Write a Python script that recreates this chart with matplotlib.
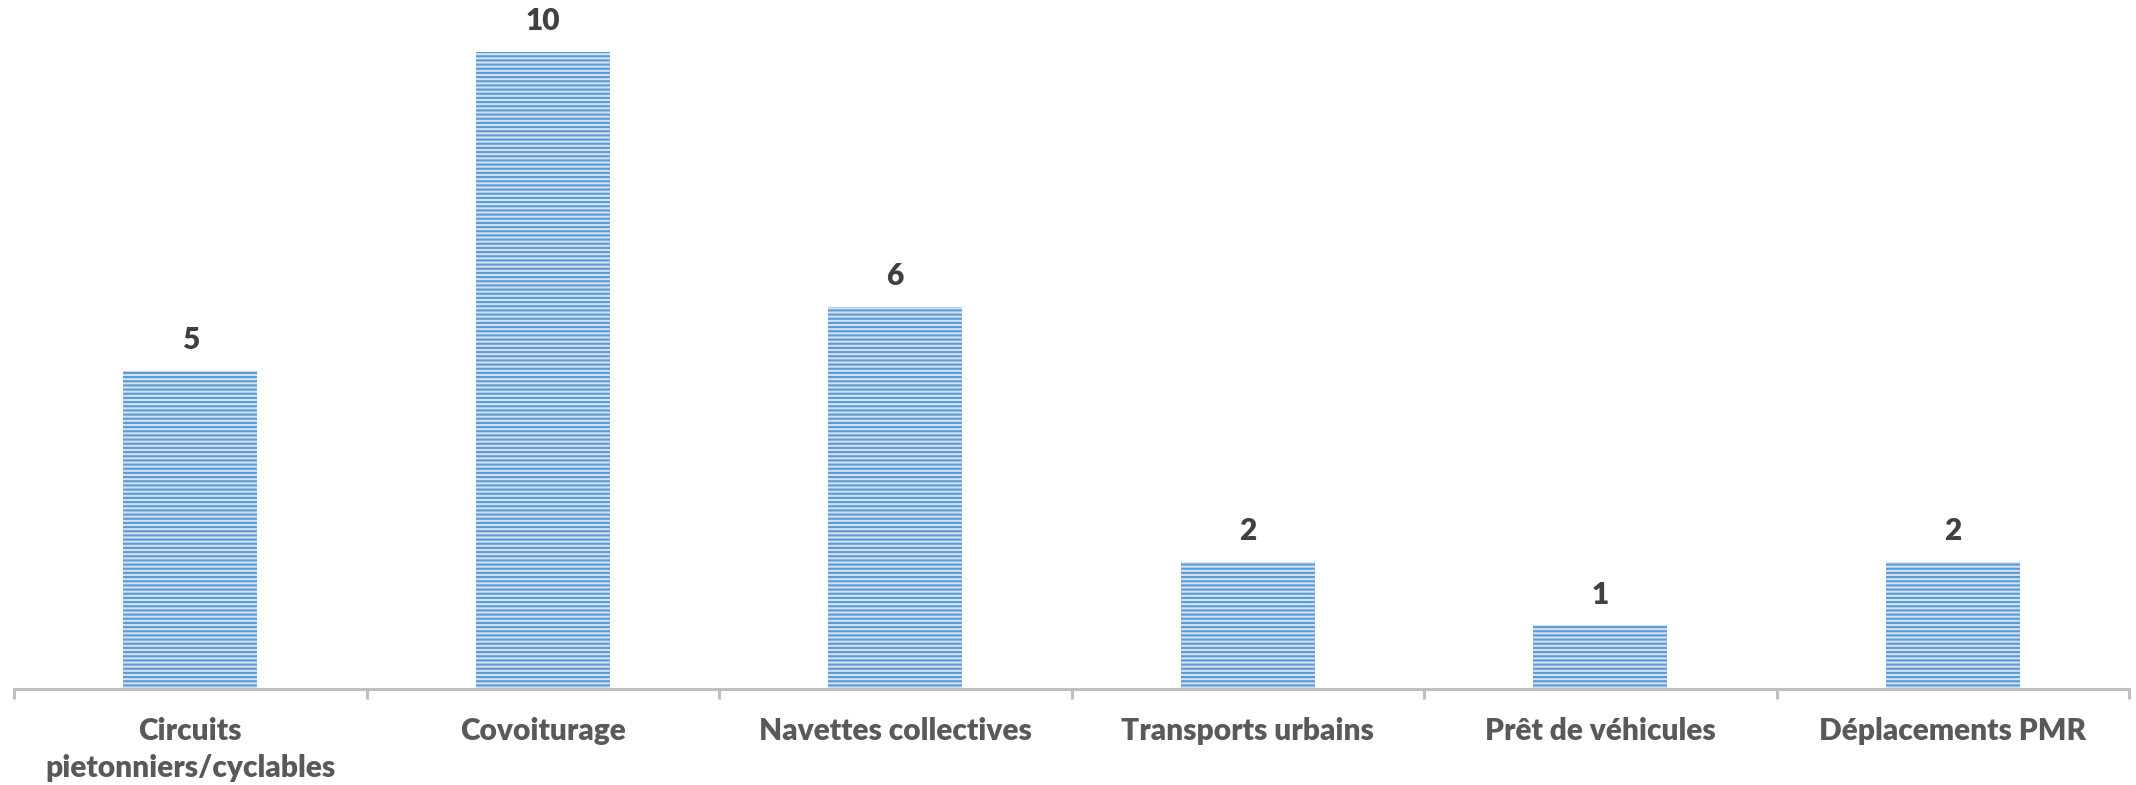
import matplotlib
matplotlib.use("Agg")
import matplotlib.pyplot as plt
import numpy as np

categories = ["Circuits\npietonniers/cyclables", "Covoiturage", "Navettes collectives",
              "Transports urbains", "Prêt de véhicules", "Déplacements PMR"]
values = [5, 10, 6, 2, 1, 2]

W, H = 2136, 785
plt.rcParams['font.family'] = ['Lato', 'DejaVu Sans']
plt.rcParams['hatch.linewidth'] = 1.5

fig = plt.figure(figsize=(W / 100, H / 100), dpi=100)
x0, x1 = 14, 2129
ybot, ytop = 689, 52
ax = fig.add_axes([x0 / W, 1 - ybot / H, (x1 - x0) / W, (ybot - ytop) / H])

x = np.arange(len(categories))
bars = ax.bar(x, values, width=0.38, color='#D3E2F3', edgecolor='#5B9BD5',
              linewidth=0, hatch='----', zorder=2)

for xi, v in zip(x, values):
    ax.annotate(str(v), (xi, v), xytext=(0, 12), textcoords='offset points',
                ha='center', va='bottom', fontsize=21.5, fontweight='heavy',
                color='#404040', annotation_clip=False)

ax.set_xlim(-0.5, len(categories) - 0.5)
ax.set_ylim(0, 10)
ax.set_xticks(x)
ax.set_xticklabels(categories, fontsize=21.5, fontweight='heavy', color='#595959',
                   linespacing=1.38)
ax.set_xticks(np.arange(len(categories) + 1) - 0.5, minor=True)
ax.tick_params(axis='x', which='major', length=0, pad=20)
ax.tick_params(axis='x', which='minor', length=7.5, width=2.2, color='#BFBFBF')
ax.set_yticks([])
for s in ['top', 'right', 'left']:
    ax.spines[s].set_visible(False)
ax.spines['bottom'].set_color('#BFBFBF')
ax.spines['bottom'].set_linewidth(2.2)

fig.savefig('out.png', dpi=100)
